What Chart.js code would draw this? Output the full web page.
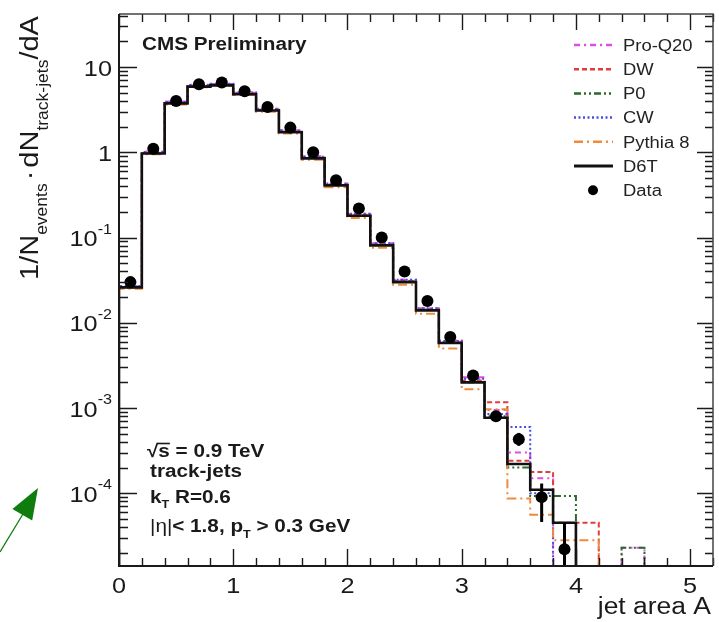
<!DOCTYPE html>
<html>
<head>
<meta charset="utf-8">
<script src="https://cdn.jsdelivr.net/npm/chart.js@4.4.1/dist/chart.umd.min.js"></script>
<style>
  html, body { margin: 0; padding: 0; background: #fff; }
  canvas { display: block; }
</style>
</head>
<body>
<canvas id="chart" width="719" height="622"></canvas>
<script>
// bin edges of the histograms (jet area A)
const binEdges = [0, 0.2, 0.4, 0.6, 0.8, 1.0, 1.2, 1.4, 1.6, 1.8, 2.0, 2.2, 2.4, 2.6, 2.8, 3.0, 3.2, 3.4, 3.6, 3.8, 4.0, 4.2, 4.4, 4.6];

// model predictions, one value per bin
const proQ20  = [0.027, 1.02, 3.95, 6.2, 6.35, 5.0, 3.25, 1.82, 0.90, 0.43, 0.19, 0.086, 0.032, 0.0148, 0.0062, 0.0023, 9.5e-4, 3.0e-4, 1.5e-4, 0, 0, 0, 2.3e-5];
const dw      = [0.026, 0.99, 3.8, 6.0, 6.2, 4.9, 3.15, 1.76, 0.87, 0.42, 0.185, 0.083, 0.031, 0.0144, 0.0060, 0.0021, 1.17e-3, 2.4e-4, 1.78e-4, 4.5e-5, 4.5e-5, 0, 0];
const p0      = [0.026, 0.98, 3.78, 5.95, 6.15, 4.85, 3.12, 1.74, 0.86, 0.415, 0.182, 0.082, 0.0305, 0.0142, 0.0059, 0.0020, 8.0e-4, 2.0e-4, 9.3e-5, 9.3e-5, 0, 0, 2.3e-5];
const cw      = [0.027, 1.01, 3.9, 6.15, 6.4, 5.05, 3.25, 1.80, 0.89, 0.43, 0.19, 0.086, 0.032, 0.0148, 0.0061, 0.0022, 8.5e-4, 6.0e-4, 1.0e-4, 0, 0, 0, 0];
const pythia8 = [0.025, 0.95, 3.65, 5.8, 6.0, 4.7, 3.0, 1.66, 0.82, 0.39, 0.17, 0.076, 0.028, 0.0128, 0.0050, 0.00166, 9.7e-4, 8.7e-5, 5.6e-5, 2.8e-5, 2.8e-5, 0, 0];
const d6t     = [0.026, 0.97, 3.75, 5.9, 6.1, 4.8, 3.1, 1.72, 0.85, 0.41, 0.18, 0.081, 0.030, 0.014, 0.0058, 0.0020, 7.7e-4, 2.2e-4, 1.1e-4, 4.5e-5, 0, 0, 0];

// measured data points with error band
const dataX  = [0.1, 0.3, 0.5, 0.7, 0.9, 1.1, 1.3, 1.5, 1.7, 1.9, 2.1, 2.3, 2.5, 2.7, 2.9, 3.1, 3.3, 3.5, 3.7, 3.9];
const dataY  = [0.030, 1.1, 4.0, 6.3, 6.6, 5.2, 3.4, 1.95, 1.0, 0.47, 0.22, 0.10, 0.040, 0.018, 0.0068, 0.0024, 8.0e-4, 4.3e-4, 9.0e-5, 2.2e-5];
const dataLo = [0.029, 1.08, 3.95, 6.22, 6.52, 5.14, 3.36, 1.92, 0.98, 0.46, 0.215, 0.097, 0.038, 0.0171, 0.0063, 0.0021, 7.2e-4, 3.6e-4, 4.6e-5, 0];
const dataHi = [0.031, 1.12, 4.05, 6.38, 6.68, 5.26, 3.44, 1.98, 1.02, 0.48, 0.225, 0.103, 0.042, 0.0189, 0.0073, 0.0027, 8.8e-4, 5.1e-4, 1.3e-4, 4.5e-5];

// axis ticks
const xTickValues = [0, 1, 2, 3, 4, 5];
const xTickLabels = ['0', '1', '2', '3', '4', '5'];
const yTickExps = [-4, -3, -2, -1, 0, 1];

const X_MIN = 0, X_MAX = 5.2;
const Y_MIN = 1.4e-5, Y_MAX = 42;
const ZERO = 1e-9; // empty bins, drawn below the frame and clipped

const FONT = '"Liberation Sans", Arial, Helvetica, sans-serif';
const SX = 1.15; // the reference text is slightly stretched horizontally
const INK = '#1a1a1a';

function histPoints(vals) {
  const pts = [{ x: binEdges[0], y: ZERO }];
  vals.forEach((v, i) => pts.push({ x: binEdges[i], y: v > 0 ? v : ZERO }));
  pts.push({ x: binEdges[vals.length], y: ZERO });
  return pts;
}

function histDataset(label, vals, color, dash, width, order) {
  return {
    type: 'line',
    label,
    data: histPoints(vals),
    borderColor: color,
    borderDash: dash,
    borderWidth: width,
    stepped: 'before',
    pointRadius: 0,
    fill: false,
    order
  };
}

function stext(ctx, str, x, y, size, weight, align) {
  ctx.save();
  ctx.font = (weight || 'normal') + ' ' + size + 'px ' + FONT;
  ctx.textAlign = align || 'left';
  ctx.textBaseline = 'alphabetic';
  ctx.translate(x, y);
  ctx.scale(SX, 1);
  ctx.fillText(str, 0, 0);
  const w = ctx.measureText(str).width * SX;
  ctx.restore();
  return w;
}

const datasets = [
  {
    type: 'scatter',
    label: 'Data',
    data: dataX.map((x, i) => ({ x, y: dataY[i] })),
    pointRadius: 6,
    pointBackgroundColor: '#000',
    pointBorderWidth: 0,
    order: 0
  },
  histDataset('D6T', d6t, '#111', [], 2.6, 1),
  histDataset('Pythia 8', pythia8, '#f08a3c', [9, 4, 2, 4], 2, 2),
  histDataset('CW', cw, '#4b4be6', [2, 2.5], 2, 3),
  histDataset('P0', p0, '#2a6a2a', [7, 3, 2, 3, 2, 3], 2, 4),
  histDataset('DW', dw, '#e63b3b', [5, 3], 2, 5),
  histDataset('Pro-Q20', proQ20, '#e04ee6', [6, 4, 2, 4], 2, 6)
];

const legendOrder = ['Pro-Q20', 'DW', 'P0', 'CW', 'Pythia 8', 'D6T', 'Data'];

const errorBars = {
  id: 'errorBars',
  afterDatasetsDraw(chart) {
    const { ctx, chartArea: a, scales: { x, y } } = chart;
    ctx.save();
    ctx.beginPath();
    ctx.rect(a.left, a.top, a.right - a.left, a.bottom - a.top);
    ctx.clip();
    ctx.strokeStyle = '#000';
    ctx.lineWidth = 3;
    dataX.forEach((v, i) => {
      const px = x.getPixelForValue(v);
      const lo = y.getPixelForValue(Math.max(dataLo[i], ZERO));
      const hi = y.getPixelForValue(dataHi[i]);
      ctx.beginPath();
      ctx.moveTo(px, lo);
      ctx.lineTo(px, hi);
      ctx.stroke();
    });
    ctx.restore();
  }
};

const frame = {
  id: 'frame',
  afterDraw(chart) {
    const { ctx, chartArea: a, scales: { x, y } } = chart;
    ctx.save();
    ctx.fillStyle = INK;
    ctx.strokeStyle = INK;

    // inward ticks
    ctx.lineWidth = 1.4;
    ctx.beginPath();
    for (let i = 0; i <= 26; i++) {
      const v = i * 0.2;
      const px = Math.round(x.getPixelForValue(v)) + 0.5;
      const major = i % 5 === 0;
      ctx.moveTo(px, a.bottom); ctx.lineTo(px, a.bottom - (major ? 17 : 8));
      ctx.moveTo(px, a.top); ctx.lineTo(px, a.top + (major ? 16 : 8));
    }
    for (let e = -5; e <= 1; e++) {
      for (let m = 1; m <= 9; m++) {
        const v = m * Math.pow(10, e);
        if (v < Y_MIN || v > Y_MAX) continue;
        const py = Math.round(y.getPixelForValue(v)) + 0.5;
        const major = m === 1;
        ctx.moveTo(a.left, py); ctx.lineTo(a.left + (major ? 18 : 9), py);
        ctx.moveTo(a.right, py); ctx.lineTo(a.right - (major ? 16 : 8), py);
      }
    }
    ctx.stroke();

    // frame
    ctx.lineWidth = 1.5;
    ctx.strokeStyle = '#444';
    ctx.beginPath();
    ctx.moveTo(a.left, a.top); ctx.lineTo(a.right, a.top); ctx.lineTo(a.right, a.bottom);
    ctx.stroke();
    ctx.lineWidth = 2;
    ctx.strokeStyle = INK;
    ctx.beginPath();
    ctx.moveTo(a.left, a.top); ctx.lineTo(a.left, a.bottom); ctx.lineTo(a.right, a.bottom);
    ctx.stroke();

    // x tick labels
    xTickValues.forEach((v, i) => {
      stext(ctx, xTickLabels[i], x.getPixelForValue(v), a.bottom + 27, 22, 'normal', 'center');
    });

    // y tick labels 10^n
    yTickExps.forEach(e => {
      const py = y.getPixelForValue(Math.pow(10, e)) + 8.5;
      const right = a.left - 7;
      if (e === 0) {
        stext(ctx, '1', right, py, 22, 'normal', 'right');
      } else if (e === 1) {
        stext(ctx, '10', right, py, 22, 'normal', 'right');
      } else {
        const w = stext(ctx, String(e), right, py - 12.5, 14, 'normal', 'right');
        stext(ctx, '10', right - w, py, 22, 'normal', 'right');
      }
    });

    // x axis title
    stext(ctx, 'jet area A', a.right - 2, 614, 23, 'normal', 'right');

    // y axis title (rotated, with subscripts)
    ctx.save();
    ctx.translate(38, 280);
    ctx.rotate(-Math.PI / 2);
    ctx.scale(1, 0.9);
    ctx.textBaseline = 'alphabetic';
    let cx = 0;
    const run = (t, size, dy, gap) => {
      ctx.font = size + 'px ' + FONT;
      cx += gap || 0;
      ctx.fillText(t, cx, dy);
      cx += ctx.measureText(t).width + (gap || 0);
    };
    run('1/N', 29, 0);
    run('events', 17.5, 10);
    run('\u00b7', 29, 0, 3);
    run('dN', 29, 0);
    run('track-jets', 17.5, 11);
    run('/dA', 29, 0);
    ctx.restore();

    // CMS label
    stext(ctx, 'CMS Preliminary', 142, 50, 18, 'bold');

    // selection text
    let tx = 147;
    const w1 = stext(ctx, '\u221a', tx, 457, 18, 'bold');
    const ws = stext(ctx, 's', tx + w1, 457, 18, 'bold');
    ctx.lineWidth = 1.6;
    ctx.beginPath();
    ctx.moveTo(tx + w1 - 1, 443.5); ctx.lineTo(tx + w1 + ws, 443.5);
    ctx.stroke();
    stext(ctx, ' = 0.9 TeV', tx + w1 + ws, 457, 18, 'bold');

    stext(ctx, 'track-jets', 150, 477, 18, 'bold');

    tx = 150;
    tx += stext(ctx, 'k', tx, 503, 18, 'bold');
    tx += stext(ctx, 'T', tx, 508, 11, 'bold');
    stext(ctx, ' R=0.6', tx, 503, 18, 'bold');

    tx = 150;
    tx += stext(ctx, '|\u03b7|', tx, 532, 18, 'normal');
    tx += stext(ctx, '< 1.8, p', tx, 532, 18, 'bold');
    tx += stext(ctx, 'T', tx, 538, 11, 'bold');
    stext(ctx, ' > 0.3 GeV', tx, 532, 18, 'bold');

    // legend
    legendOrder.forEach((name, i) => {
      const ds = chart.data.datasets.find(d => d.label === name);
      const cy = 45 + i * 24.2;
      if (name === 'Data') {
        ctx.fillStyle = '#000';
        ctx.beginPath();
        ctx.arc(593, cy, 5, 0, Math.PI * 2);
        ctx.fill();
      } else {
        ctx.save();
        ctx.strokeStyle = ds.borderColor;
        ctx.lineWidth = ds.borderWidth + 0.5;
        ctx.setLineDash(ds.borderDash);
        ctx.beginPath();
        ctx.moveTo(574, cy); ctx.lineTo(613, cy);
        ctx.stroke();
        ctx.restore();
      }
      ctx.fillStyle = '#222';
      stext(ctx, name, 623, cy + 5.8, 16, 'normal');
    });

    // green arrow annotation
    ctx.strokeStyle = '#0e7d0e';
    ctx.fillStyle = '#0e7d0e';
    ctx.lineWidth = 1.3;
    ctx.beginPath();
    ctx.moveTo(0, 552); ctx.lineTo(23, 514);
    ctx.stroke();
    ctx.beginPath();
    ctx.moveTo(38, 488); ctx.lineTo(32.2, 520.6); ctx.lineTo(12.4, 509);
    ctx.closePath();
    ctx.fill();

    ctx.restore();
  }
};

new Chart(document.getElementById('chart'), {
  data: { datasets },
  options: {
    responsive: false,
    animation: false,
    devicePixelRatio: 1,
    layout: { padding: { top: 14, right: 1, left: 0, bottom: 0 } },
    plugins: { legend: { display: false }, tooltip: { enabled: false } },
    scales: {
      x: {
        type: 'linear',
        min: X_MIN,
        max: X_MAX,
        grid: { display: false },
        border: { display: false },
        ticks: { display: false },
        afterFit(scale) { scale.height = 56; }
      },
      y: {
        type: 'logarithmic',
        min: Y_MIN,
        max: Y_MAX,
        grid: { display: false },
        border: { display: false },
        ticks: { display: false },
        afterFit(scale) { scale.width = 119; }
      }
    }
  },
  plugins: [errorBars, frame]
});
</script>
</body>
</html>
